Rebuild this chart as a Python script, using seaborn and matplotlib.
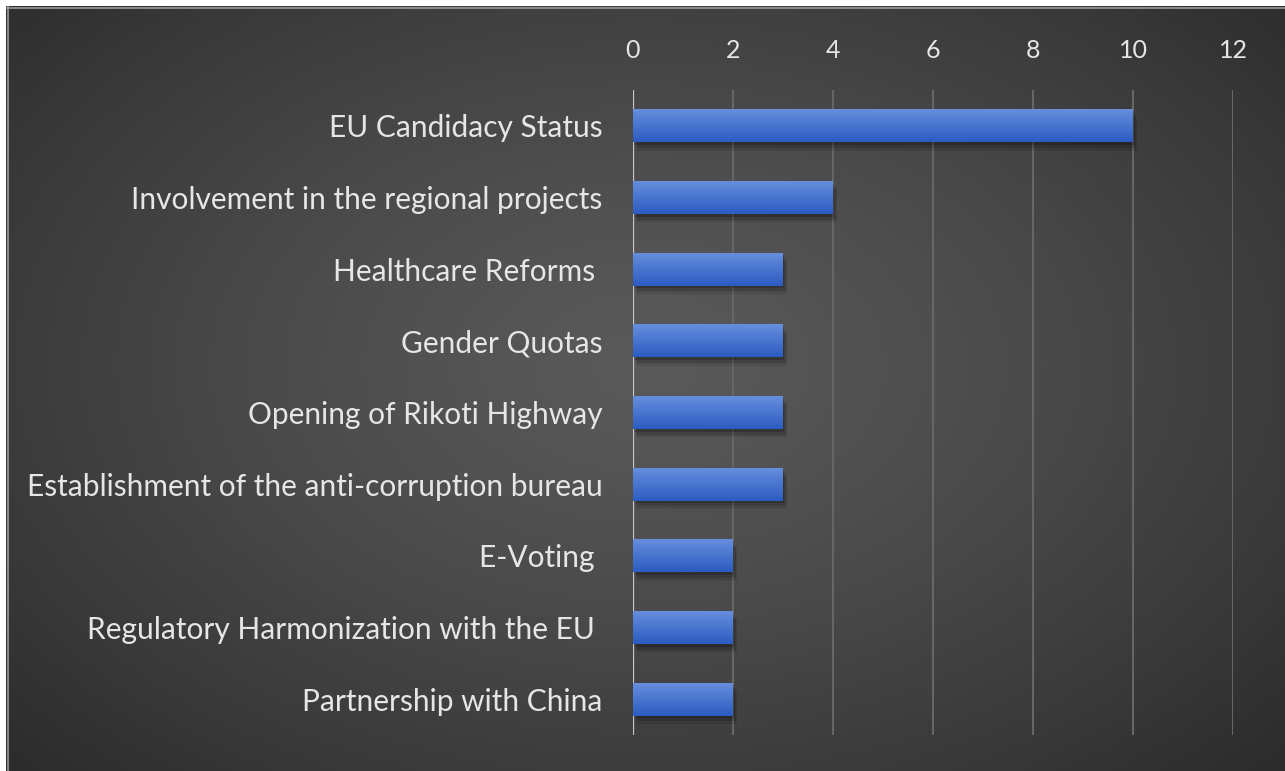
import numpy as np
import pandas as pd
import seaborn as sns
import matplotlib.pyplot as plt
import matplotlib.patheffects as pe

categories = ["EU Candidacy Status",
              "Involvement in the regional projects",
              "Healthcare Reforms ",
              "Gender Quotas",
              "Opening of Rikoti Highway",
              "Establishment of the anti-corruption bureau",
              "E-Voting ",
              "Regulatory Harmonization with the EU ",
              "Partnership with China"]
counts = [10, 4, 3, 3, 3, 3, 2, 2, 2]
x_ticks = [0, 2, 4, 6, 8, 10, 12]

df = pd.DataFrame({"item": categories, "count": counts})

sns.set_style("white")
plt.rcParams['font.family'] = ['Lato', 'DejaVu Sans']

fig = plt.figure(figsize=(12.85, 7.71), dpi=100)
fig.patch.set_facecolor("white")

# dark radial background
bg = fig.add_axes([6 / 1285, 0, 1 - 6 / 1285, 1 - 6 / 771])
yy, xx = np.mgrid[0:1:300j, 0:1:500j]
r = np.sqrt(((xx - 0.5) / 0.55) ** 2 + ((yy - 0.47) / 0.6) ** 2)
r = np.clip(r / r.max(), 0, 1)
shade = 0.35 - 0.18 * r ** 1.3
bg.imshow(np.dstack([shade] * 3), aspect="auto", extent=[0, 1, 0, 1], origin="upper")
bg.axvline(0.0015, color="#9a9a9a", lw=1.2)
bg.axhline(0.998, color="#9a9a9a", lw=1.2)
bg.set_axis_off()

ax = fig.add_axes([633 / 1285, 36 / 771, 600 / 1285, 645 / 771])
ax.patch.set_alpha(0)
sns.barplot(data=df, x="count", y="item", color="#3e6cce", width=0.46, ax=ax,
            saturation=1, orient="h", linewidth=0, edgecolor="none")

# gradient + soft shadow on bars
grad = np.linspace(0, 1, 50).reshape(-1, 1)
top = np.array([0x66, 0x8e, 0xdc]) / 255
bot = np.array([0x2c, 0x5c, 0xc2]) / 255
gimg = (top[None, None, :] * (1 - grad[..., None]) + bot[None, None, :] * grad[..., None])
for p in ax.patches:
    p.set_path_effects([pe.SimplePatchShadow(offset=(1, -2), shadow_rgbFace="black", alpha=0.18),
                        pe.SimplePatchShadow(offset=(2, -4), shadow_rgbFace="black", alpha=0.14),
                        pe.SimplePatchShadow(offset=(3, -6), shadow_rgbFace="black", alpha=0.1),
                        pe.Normal()])
    x0, y0 = p.get_x(), p.get_y()
    w, h = p.get_width(), p.get_height()
    im = ax.imshow(gimg, extent=[x0, x0 + w, y0 + h, y0], aspect="auto", zorder=p.get_zorder() + 0.1)
    im.set_clip_path(p)

ax.set_xlim(0, 12)
ax.set_ylim(len(categories) - 0.5, -0.5)
ax.set_xticks(x_ticks)
ax.xaxis.tick_top()
ax.grid(axis="x", color="#666666", lw=1.5)
ax.set_axisbelow(True)
for s in ax.spines.values():
    s.set_visible(False)
ax.axvline(0, color="#c8c8c8", lw=1.6, zorder=1)
ax.tick_params(axis="x", length=0, pad=20, labelsize=18, labelcolor="#e6e6e6")
ax.tick_params(axis="y", length=0, pad=22, labelsize=21.5, labelcolor="#e6e6e6")
ax.set_xlabel("")
ax.set_ylabel("")

fig.savefig("out.png", dpi=100, facecolor=fig.get_facecolor())
